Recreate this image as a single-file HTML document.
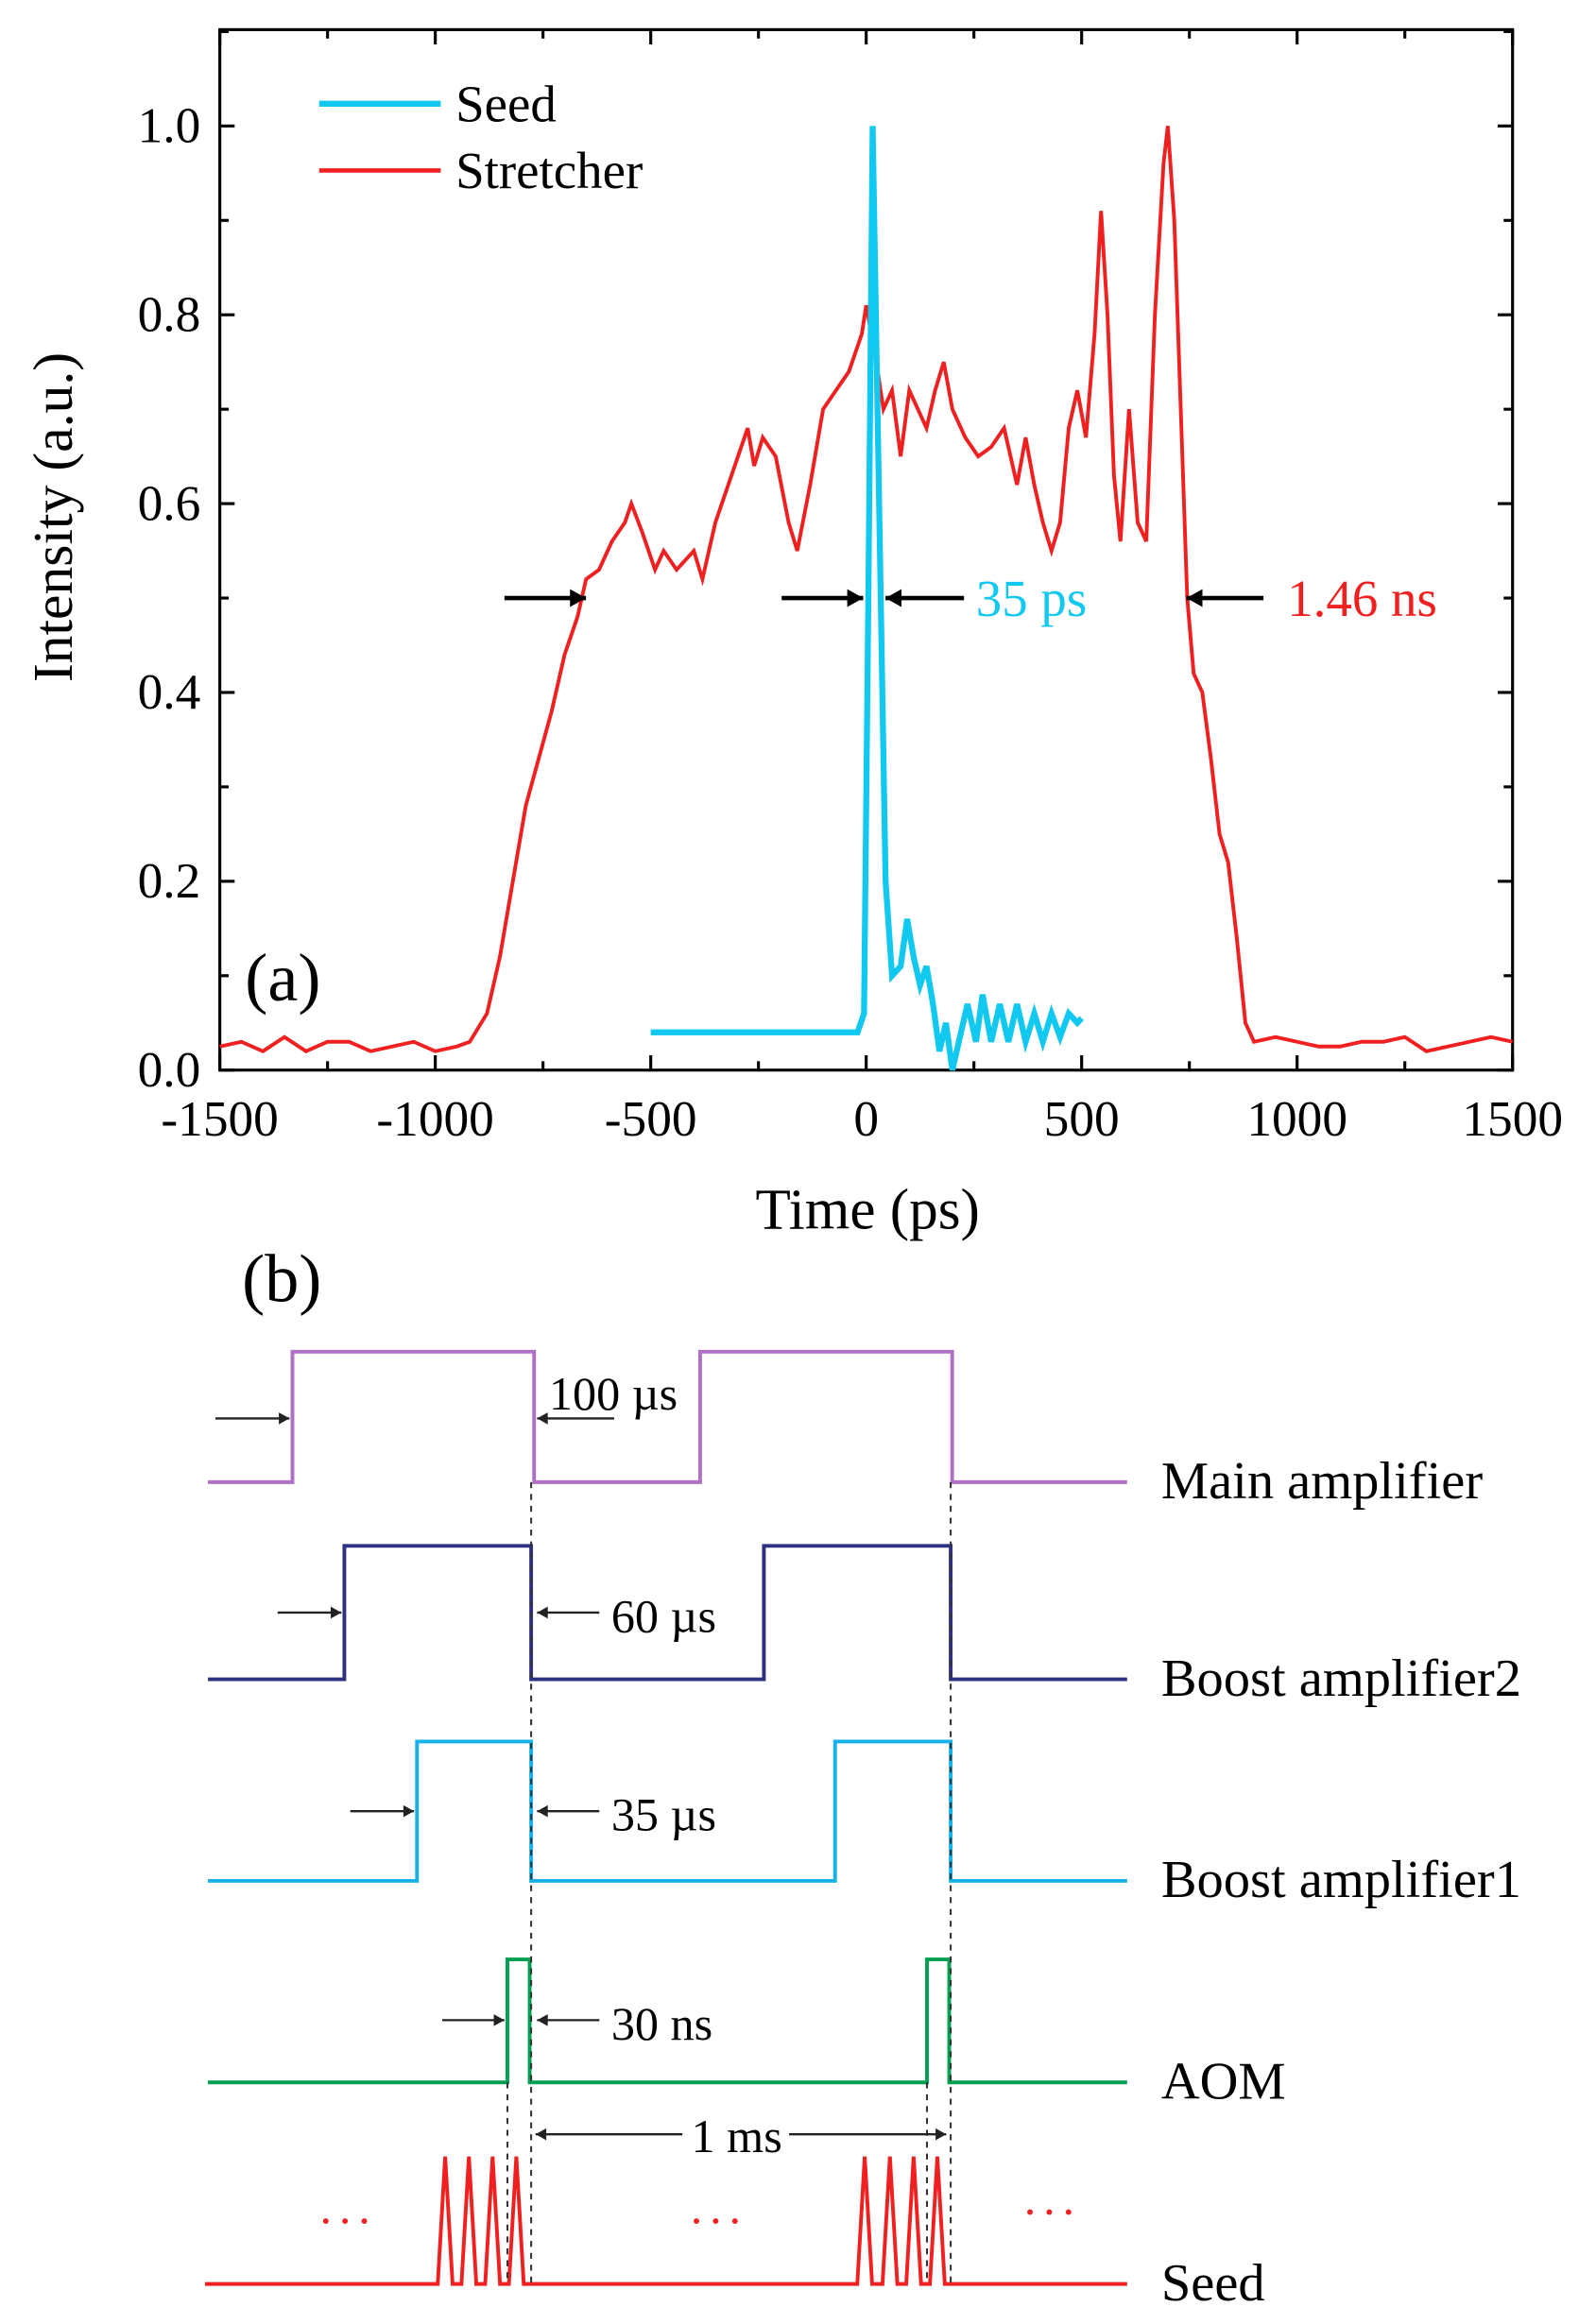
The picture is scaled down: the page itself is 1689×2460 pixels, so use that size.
<!DOCTYPE html>
<html><head><meta charset="utf-8"><style>
html,body{margin:0;padding:0;background:#fff}
svg{display:block}
text{font-family:"Liberation Serif",serif}
</style></head><body>
<svg id="fig" width="1689" height="2460" viewBox="0 0 1076 1568" xmlns="http://www.w3.org/2000/svg">
<g id="chartA"></g>
<g id="chartB"></g>
</svg>
<script>
const xTicks=[-1500,-1000,-500,0,500,1000,1500];
const yTicks=[0.0,0.2,0.4,0.6,0.8,1.0];
const stretcherT=[-1500,-1450,-1400,-1350,-1300,-1250,-1200,-1150,-1100,-1050,-1000,-950,-920,-880,-850,-820,-790,-760,-730,-700,-670,-650,-620,-590,-560,-545,-520,-490,-470,-440,-400,-380,-350,-320,-290,-275,-260,-240,-210,-180,-160,-130,-100,-70,-40,-10,0,20,40,60,80,100,120,140,160,180,200,230,260,290,320,350,370,390,410,430,450,470,490,510,530,545,560,575,590,610,630,650,670,690,700,715,730,745,760,780,800,820,840,860,880,900,950,1000,1050,1100,1150,1200,1250,1300,1350,1400,1450,1500];
const stretcherV=[0.025,0.03,0.02,0.035,0.02,0.03,0.03,0.02,0.025,0.03,0.02,0.025,0.03,0.06,0.12,0.2,0.28,0.33,0.38,0.44,0.48,0.52,0.53,0.56,0.58,0.60,0.57,0.53,0.55,0.53,0.55,0.52,0.58,0.62,0.66,0.68,0.64,0.67,0.65,0.58,0.55,0.62,0.70,0.72,0.74,0.78,0.81,0.76,0.70,0.72,0.65,0.72,0.70,0.68,0.72,0.75,0.70,0.67,0.65,0.66,0.68,0.62,0.67,0.62,0.58,0.55,0.58,0.68,0.72,0.67,0.78,0.91,0.80,0.63,0.56,0.70,0.58,0.56,0.80,0.96,1.0,0.90,0.70,0.50,0.42,0.40,0.33,0.25,0.22,0.14,0.05,0.03,0.035,0.03,0.025,0.025,0.03,0.03,0.035,0.02,0.025,0.03,0.035,0.03];
const seedT=[-500,-20,-5,5,15,30,45,60,80,95,110,125,140,155,170,185,200,215,235,255,270,290,310,330,350,370,390,410,430,450,470,490,500];
const seedV=[0.04,0.04,0.06,0.5,1.0,0.6,0.2,0.1,0.11,0.16,0.12,0.09,0.11,0.07,0.02,0.05,0.0,0.03,0.07,0.03,0.08,0.03,0.07,0.03,0.07,0.03,0.06,0.03,0.06,0.035,0.06,0.05,0.055];
const NS='http://www.w3.org/2000/svg';
const L=148,R=1020,T=20,B=722;
const xs=t=>L+(t+1500)/3000*(R-L);
const ys=v=>B-v*637;
function mk(tag,attrs,parent,txt){const e=document.createElementNS(NS,tag);for(const k in attrs)e.setAttribute(k,attrs[k]);if(txt!==undefined)e.textContent=txt;parent.appendChild(e);return e;}
const A=document.getElementById('chartA');
let e;
e=mk('rect',{x:L,y:T,width:R-L,height:B-T,fill:'none',stroke:'#000','stroke-width':2},A);


xTicks.forEach((t,i)=>{
  mk('line',{x1:xs(t),x2:xs(t),y1:B,y2:B-10,stroke:'#000','stroke-width':2},A);
  mk('line',{x1:xs(t),x2:xs(t),y1:T,y2:T+10,stroke:'#000','stroke-width':2},A);
  if(i<xTicks.length-1){const m=xs(t+250);mk('line',{x1:m,x2:m,y1:B,y2:B-6,stroke:'#000','stroke-width':2},A);mk('line',{x1:m,x2:m,y1:T,y2:T+6,stroke:'#000','stroke-width':2},A);}
  e=mk('text',{x:xs(t),y:766,'font-size':34,'text-anchor':'middle'},A,String(t));
  
  
});
yTicks.forEach((v,i)=>{
  mk('line',{x1:L,x2:L+10,y1:ys(v),y2:ys(v),stroke:'#000','stroke-width':2},A);
  mk('line',{x1:R,x2:R-10,y1:ys(v),y2:ys(v),stroke:'#000','stroke-width':2},A);
  const m=ys(v+0.1);mk('line',{x1:L,x2:L+6,y1:m,y2:m,stroke:'#000','stroke-width':2},A);mk('line',{x1:R,x2:R-6,y1:m,y2:m,stroke:'#000','stroke-width':2},A);
  e=mk('text',{x:135,y:ys(v)+11,'font-size':34,'text-anchor':'end'},A,v.toFixed(1));
  
  
});
e=mk('text',{x:585,y:829,'font-size':39,'text-anchor':'middle'},A,'Time (ps)');


e=mk('text',{x:0,y:0,'font-size':38,'text-anchor':'middle',transform:'translate(48,349) rotate(-90)'},A,'Intensity (a.u.)');


e=mk('polyline',{points:stretcherT.map((t,i)=>xs(t)+','+ys(stretcherV[i])).join(' '),fill:'none',stroke:'#f02020','stroke-width':2.5},A);


e=mk('polyline',{points:seedT.map((t,i)=>xs(t)+','+ys(seedV[i])).join(' '),fill:'none',stroke:'#10c8f0','stroke-width':4},A);


mk('line',{x1:215,x2:297,y1:70,y2:70,stroke:'#10c8f0','stroke-width':4},A);
e=mk('text',{x:307,y:82,'font-size':35},A,'Seed');


mk('line',{x1:215,x2:297,y1:115,y2:115,stroke:'#f02020','stroke-width':3},A);
e=mk('text',{x:307,y:127,'font-size':35},A,'Stretcher');


e=mk('text',{x:165,y:675,'font-size':46},A,'(a)');


function arrow(p,x1,x2,y,col,w,h){mk('line',{x1:x1,x2:x2,y1:y,y2:y,stroke:col,'stroke-width':w},p);const d=x2>x1?-1:1;mk('polygon',{points:`${x2},${y} ${x2+d*h*1.8},${y-h} ${x2+d*h*1.8},${y+h}`,fill:col},p);}
const ay=ys(0.5);
arrow(A,340,395,ay,'#000',3,6);arrow(A,527,582,ay,'#000',3,6);arrow(A,650,597,ay,'#000',3,6);arrow(A,852,800,ay,'#000',3,6);
e=mk('text',{x:658,y:ay+12,'font-size':35,fill:'#10c8f0'},A,'35 ps');


e=mk('text',{x:868,y:ay+12,'font-size':35,fill:'#f02020'},A,'1.46 ns');



const Bg=document.getElementById('chartB');
e=mk('text',{x:163,y:878,'font-size':46},Bg,'(b)');


const rows=[
 {name:'Main amplifier',col:'#b070c8',lo:1000,hi:912,edges:[197,360,472,642]},
 {name:'Boost amplifier2',col:'#2e3080',lo:1133,hi:1043,edges:[232,358,515,641]},
 {name:'Boost amplifier1',col:'#18b0e8',lo:1269,hi:1175,edges:[281,358,563,641]},
 {name:'AOM',col:'#00a050',lo:1405,hi:1322,edges:[342,357,625,640]}];
rows.forEach(r=>{
  const [a,b,c,d]=r.edges;
  e=mk('polyline',{points:`140,${r.lo} ${a},${r.lo} ${a},${r.hi} ${b},${r.hi} ${b},${r.lo} ${c},${r.lo} ${c},${r.hi} ${d},${r.hi} ${d},${r.lo} 760,${r.lo}`,fill:'none',stroke:r.col,'stroke-width':2.5},Bg);
  
  
  e=mk('text',{x:783,y:r.lo+11,'font-size':36},Bg,r.name);
  
  
});
let pts='138,1541';
[300,316,332,348,583,600,616,632].forEach(px=>{pts+=` ${px-5},1541 ${px},1455 ${px+5},1541`;});
pts+=' 760,1541';
e=mk('polyline',{points:pts,fill:'none',stroke:'#f02020','stroke-width':2.5},Bg);


e=mk('text',{x:783,y:1552,'font-size':36},Bg,'Seed');


[[358,1000,1541],[641,1000,1541],[342,1405,1541],[625,1405,1541]].forEach(g=>mk('line',{x1:g[0],x2:g[0],y1:g[1],y2:g[2],stroke:'#333','stroke-width':1.3,'stroke-dasharray':'4,4'},Bg));
arrow(Bg,145,195,957,'#222',1.5,4);arrow(Bg,414,362,957,'#222',1.5,4);
arrow(Bg,187,230,1088,'#222',1.5,4);arrow(Bg,404,362,1088,'#222',1.5,4);
arrow(Bg,236,279,1222,'#222',1.5,4);arrow(Bg,404,362,1222,'#222',1.5,4);
arrow(Bg,298,340,1363,'#222',1.5,4);arrow(Bg,404,362,1363,'#222',1.5,4);
arrow(Bg,460,361,1440,'#222',1.5,4);arrow(Bg,532,638,1440,'#222',1.5,4);
[['100 µs',370,951],['60 µs',412,1101],['35 µs',412,1235],['30 ns',412,1376],['1 ms',466,1452]].forEach(a=>{
  e=mk('text',{x:a[1],y:a[2],'font-size':32},Bg,a[0]);
  
  
});
[[235,1500],[485,1500],[710,1494]].forEach(d=>{
  e=mk('text',{x:d[0],y:d[1],'font-size':32,fill:'#f02020','text-anchor':'middle','letter-spacing':5},Bg,'...');
  
  
});
</script>
</body></html>
